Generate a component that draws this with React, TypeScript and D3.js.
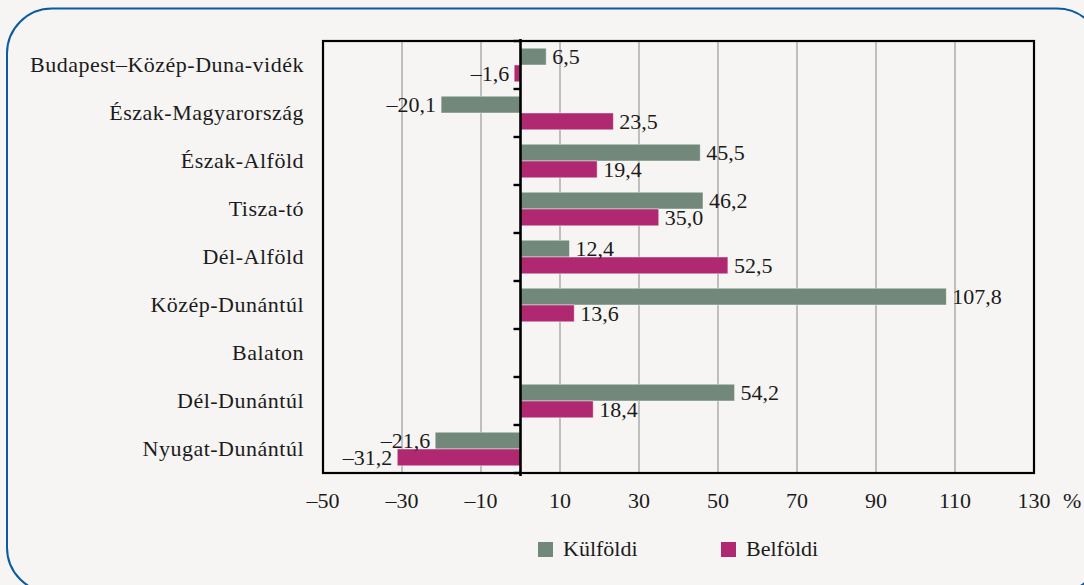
import React from 'react';
import * as d3 from 'd3';

const categories = [
  'Budapest–Közép-Duna-vidék',
  'Észak-Magyarország',
  'Észak-Alföld',
  'Tisza-tó',
  'Dél-Alföld',
  'Közép-Dunántúl',
  'Balaton',
  'Dél-Dunántúl',
  'Nyugat-Dunántúl',
];
const seriesNames = ['Külföldi', 'Belföldi'];
const kulfoldi = [6.5, -20.1, 45.5, 46.2, 12.4, 107.8, null, 54.2, -21.6];
const belfoldi = [-1.6, 23.5, 19.4, 35.0, 52.5, 13.6, null, 18.4, -31.2];
const xTicks = [-50, -30, -10, 10, 30, 50, 70, 90, 110, 130];

const colors = ['#72887a', '#b0286f'];
const textColor = '#1b1b1b';
const txt = { fontFamily: '"Liberation Serif"', fontSize: '22px' };

const W = 1084;
const H = 585;
const plot = { left: 323, right: 1034, top: 41, bottom: 473 };

// comma decimal, en dash for minus
const fmt = (v: number) => {
  const s = Math.abs(v).toFixed(1).replace('.', ',');
  return v < 0 ? '–' + s : s;
};
const tickFmt = (v: number) => (v < 0 ? '–' + Math.abs(v) : String(v));

export default function App() {
  const x = d3.scaleLinear().domain([-50, 130]).range([plot.left, plot.right]);
  const y = d3.scaleBand<string>().domain(categories).range([plot.top, plot.bottom]);
  const inner = d3
    .scaleBand<string>()
    .domain(seriesNames)
    .range([0, y.bandwidth()])
    .paddingOuter(0.43);

  const series = [kulfoldi, belfoldi];
  const zeroX = x(0);
  const boundaries = categories.map((c) => y(c) as number).concat([plot.bottom]);

  return (
    <svg width={W} height={H} style={{ position: 'absolute', left: 0, top: 0, background: '#f6f5f3' }}>
      {/* outer frame */}
      <rect x={7} y={8.5} width={1095} height={584} rx={45} ry={45} fill="none" stroke="#0b5b9e" strokeWidth={2} />

      {/* gridlines */}
      {xTicks.slice(1, -1).map((t) => (
        <line key={t} x1={x(t)} x2={x(t)} y1={plot.top} y2={plot.bottom} stroke="#9a9a9a" strokeWidth={1.2} />
      ))}

      {/* bars */}
      {series.map((vals, si) =>
        vals.map((v, i) => {
          if (v == null) return null;
          const by = (y(categories[i]) as number) + (inner(seriesNames[si]) as number);
          const x0 = Math.min(x(0), x(v));
          return (
            <rect
              key={`${si}-${i}`}
              x={x0}
              y={by}
              width={Math.abs(x(v) - x(0))}
              height={inner.bandwidth()}
              fill={colors[si]}
              stroke="rgba(255,255,255,0.55)"
              strokeWidth={0.8}
            />
          );
        })
      )}

      {/* plot border */}
      <rect
        x={plot.left}
        y={plot.top}
        width={plot.right - plot.left}
        height={plot.bottom - plot.top}
        fill="none"
        stroke="#000"
        strokeWidth={2.2}
      />

      {/* zero axis + ticks */}
      <line x1={zeroX} x2={zeroX} y1={plot.top - 2} y2={plot.bottom + 3} stroke="#000" strokeWidth={2.6} />
      {boundaries.map((b, i) => (
        <line key={i} x1={zeroX - 7} x2={zeroX} y1={b} y2={b} stroke="#000" strokeWidth={2.4} />
      ))}

      {/* value labels */}
      {series.map((vals, si) =>
        vals.map((v, i) => {
          if (v == null) return null;
          const cy = (y(categories[i]) as number) + (inner(seriesNames[si]) as number) + inner.bandwidth() / 2;
          const pos = v >= 0;
          return (
            <text
              key={`l${si}-${i}`}
              x={pos ? x(v) + 6 : x(v) - 5}
              y={cy}
              dy="0.33em"
              textAnchor={pos ? 'start' : 'end'}
              style={txt}
              fill={textColor}
            >
              {fmt(v)}
            </text>
          );
        })
      )}

      {/* category labels */}
      {categories.map((c) => (
        <text
          key={c}
          x={plot.left - 19}
          y={(y(c) as number) + y.bandwidth() / 2}
          dy="0.3em"
          textAnchor="end"
          style={{ ...txt, letterSpacing: '0.5px' }}
          fill={textColor}
        >
          {c}
        </text>
      ))}

      {/* x tick labels */}
      {xTicks.map((t) => (
        <text key={t} x={x(t)} y={plot.bottom + 35} textAnchor="middle" style={txt} fill={textColor}>
          {tickFmt(t)}
        </text>
      ))}
      <text x={1063} y={plot.bottom + 35} style={txt} fill={textColor}>
        %
      </text>

      {/* legend */}
      {seriesNames.map((s, i) => {
        const lx = 538 + i * 183;
        return (
          <g key={s}>
            <rect x={lx} y={542} width={15} height={15} fill={colors[i]} />
            <text x={lx + 25} y={556} style={txt} fill={textColor}>
              {s}
            </text>
          </g>
        );
      })}
    </svg>
  );
}
